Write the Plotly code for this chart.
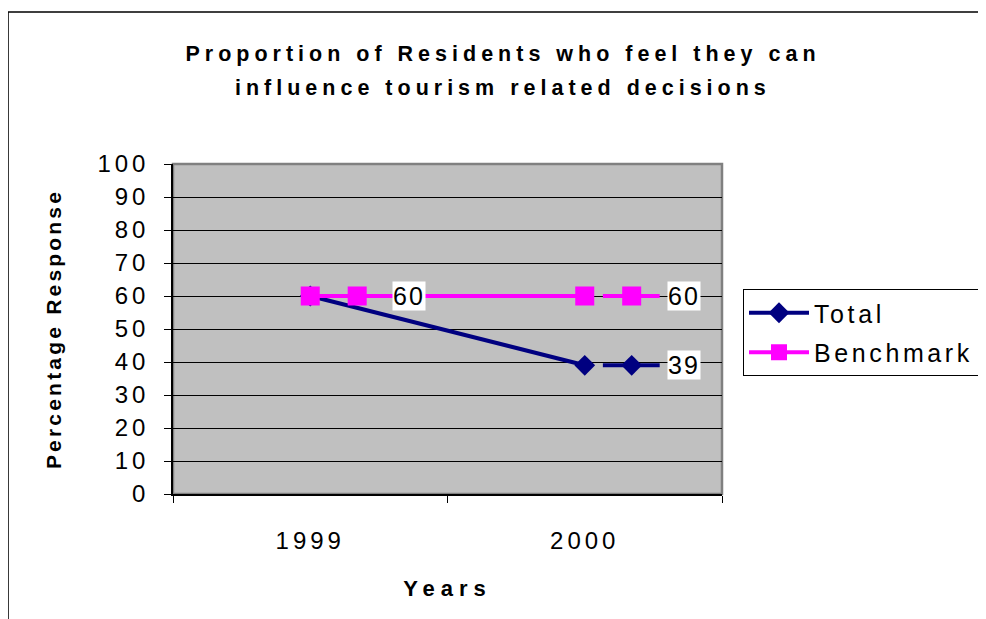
import plotly.graph_objects as go

years = ["1999", "2000"]
total = [60, 39]
benchmark = [60, 60]
y_ticks = [0, 10, 20, 30, 40, 50, 60, 70, 80, 90, 100]
title_lines = ["Proportion of Residents who feel they can",
               "influence tourism related decisions"]

NAVY = "#000080"
MAG = "#FF00FF"
FONT = "Arial, Liberation Sans, sans-serif"


def sp(text, px):
    return '<span style="letter-spacing:%spx">%s</span>' % (px, text)


xs = list(range(len(years)))
fig = go.Figure()

series = [
    ("Total", total, NAVY, "diamond", 16),
    ("Benchmark", benchmark, MAG, "square", 19),
]

for i, (name, vals, col, sym, ms) in enumerate(series):
    fig.add_trace(go.Scatter(
        x=xs, y=vals, name=sp(name, 3.6), mode="lines+markers",
        legendgroup="g%d" % i,
        line=dict(color=col, width=4),
        marker=dict(symbol=sym, size=ms, color=col, opacity=1, line=dict(width=0)),
        cliponaxis=False,
    ))

# data-label legend keys (Excel style) and label text
for i, (name, vals, col, sym, ms) in enumerate(series):
    for xi, v in zip(xs, vals):
        # a label hidden beneath a later series' label at the same spot is skipped
        hidden = any(other[1][xi] == v for other in series[i + 1:])
        if hidden:
            continue
        fig.add_trace(go.Scatter(
            x=[xi + 0.066, xi + 0.171, xi + 0.273], y=[v, v, v],
            mode="lines+markers", showlegend=False, hoverinfo="skip",
            line=dict(color=col, width=4),
            marker=dict(symbol=sym, size=[0, ms, 0], color=col, opacity=1,
                        line=dict(width=0)),
            cliponaxis=False,
        ))
        fig.add_annotation(
            x=xi + 0.36, y=v, xref="x", yref="y", text=sp(v, 2),
            showarrow=False, bgcolor="white", borderpad=0,
            font=dict(family=FONT, size=25, color="black"),
        )

W, H = 978, 611
# second title line
fig.add_annotation(
    x=(495 - 165) / 549, y=(486 - 80) / 330, xref="paper", yref="paper",
    text="<b>" + sp(title_lines[1], 5.0) + "</b>", showarrow=False,
    xanchor="center", yanchor="middle",
    font=dict(family=FONT, size=21.5, color="black"),
)

# outer chart border
fig.add_shape(type="rect", xref="paper", yref="paper",
              x0=-0.3005, x1=1.49, y0=-0.42, y1=1.4606,
              line=dict(color="black", width=1.5), layer="below")
# plot-area border
fig.add_shape(type="rect", xref="paper", yref="paper",
              x0=0, x1=1, y0=0, y1=1,
              line=dict(color="#808080", width=2.5), layer="below")

fig.update_layout(
    width=W, height=H,
    margin=dict(l=165, r=264, t=156, b=125, autoexpand=False),
    paper_bgcolor="white", plot_bgcolor="#C0C0C0",
    font=dict(family=FONT, color="black"),
    title=dict(
        text="<b>" + sp(title_lines[0], 5.0) + "</b>",
        x=495 / W, xanchor="center", y=1 - 45 / H, yanchor="middle",
        font=dict(family=FONT, size=21.5, color="black"),
    ),
    showlegend=True,
    legend=dict(
        x=(743 - 173) / 549, xanchor="left",
        y=(494 - 289) / 330, yanchor="top",
        bordercolor="black", borderwidth=1, bgcolor="white",
        font=dict(family=FONT, size=25, color="black"),
        tracegroupgap=4, itemwidth=60,
    ),
    xaxis=dict(
        range=[-0.5, 1.5], tickmode="array", tickvals=xs,
        ticktext=[sp(y, 4) for y in years],
        ticks="", showgrid=False, zeroline=False,
        showline=True, linecolor="black", linewidth=1.5,
        tickfont=dict(family=FONT, size=24),
        ticklabelstandoff=24,
        minor=dict(tickmode="array", tickvals=[-0.5, 0.5, 1.5],
                   ticks="outside", ticklen=7, tickcolor="black",
                   tickwidth=1, showgrid=False),
        title=dict(text="<b>" + sp("Years", 6) + "</b>",
                   font=dict(family=FONT, size=22), standoff=28),
    ),
    yaxis=dict(
        range=[0, 100], tickmode="array", tickvals=y_ticks,
        ticktext=[sp(t, 4) for t in y_ticks],
        ticks="outside", ticklen=7, tickcolor="black", tickwidth=1,
        showgrid=True, gridcolor="black", gridwidth=1, zeroline=False,
        showline=True, linecolor="black", linewidth=1.5,
        tickfont=dict(family=FONT, size=24),
        ticklabelstandoff=10,
        title=dict(text="<b>" + sp("Percentage Response", 3.2) + "</b>",
                   font=dict(family=FONT, size=21), standoff=30),
    ),
)

fig.write_html("out.html")
